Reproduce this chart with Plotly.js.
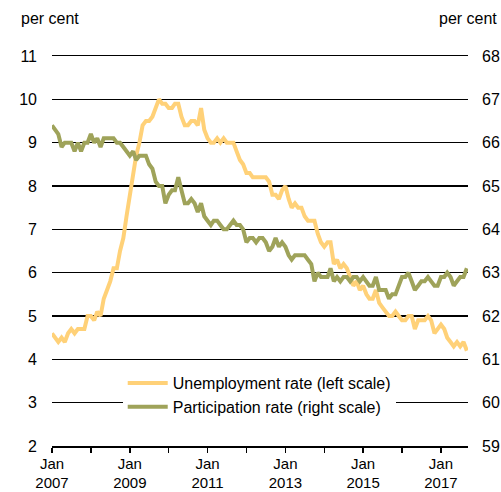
<!DOCTYPE html>
<html>
<head>
<meta charset="utf-8">
<script src="https://cdn.plot.ly/plotly-3.0.1.min.js"></script>
<style>html,body{margin:0;padding:0;background:#fff;}#chart{width:501px;height:492px;}</style>
</head>
<body>
<div id="chart"></div>
<script>
// Monthly, Jan 2007 – Sep 2017
const startYear = 2007;
const unemployment = [
  4.6, 4.5, 4.4, 4.5, 4.4, 4.6, 4.7, 4.6, 4.7, 4.7, 4.7, 5.0,
  5.0, 4.9, 5.1, 5.0, 5.4, 5.6, 5.8, 6.1, 6.1, 6.5, 6.8, 7.3,
  7.8, 8.3, 8.7, 9.0, 9.4, 9.5, 9.5, 9.6, 9.8, 10.0, 9.9, 9.9,
  9.8, 9.8, 9.9, 9.9, 9.6, 9.4, 9.4, 9.5, 9.5, 9.4, 9.8, 9.3,
  9.1, 9.0, 9.0, 9.1, 9.0, 9.1, 9.0, 9.0, 9.0, 8.8, 8.6, 8.5,
  8.3, 8.3, 8.2, 8.2, 8.2, 8.2, 8.2, 8.1, 7.8, 7.8, 7.7, 7.9,
  8.0, 7.7, 7.5, 7.6, 7.5, 7.5, 7.3, 7.2, 7.2, 7.2, 6.9, 6.7,
  6.6, 6.7, 6.7, 6.2, 6.3, 6.1, 6.2, 6.1, 5.9, 5.7, 5.8, 5.6,
  5.7, 5.5, 5.4, 5.4, 5.6, 5.3, 5.2, 5.1, 5.0, 5.0, 5.1, 5.0,
  4.9, 4.9, 5.0, 5.0, 4.7, 4.9, 4.9, 4.9, 5.0, 4.9, 4.6, 4.7,
  4.8, 4.7, 4.5, 4.4, 4.3, 4.4, 4.3, 4.4, 4.2
];
const participation = [
  66.4, 66.3, 66.2, 65.9, 66.0, 66.0, 66.0, 65.8, 66.0, 65.8, 66.0, 66.0,
  66.2, 66.0, 66.1, 65.9, 66.1, 66.1, 66.1, 66.1, 66.0, 66.0, 65.9, 65.8,
  65.7, 65.8, 65.6, 65.7, 65.7, 65.7, 65.5, 65.4, 65.1, 65.0, 65.0, 64.6,
  64.8, 64.9, 64.9, 65.2, 64.9, 64.6, 64.6, 64.7, 64.6, 64.4, 64.6, 64.3,
  64.2, 64.1, 64.2, 64.2, 64.1, 64.0, 64.0, 64.1, 64.2, 64.1, 64.1, 64.0,
  63.7, 63.8, 63.8, 63.7, 63.8, 63.8, 63.7, 63.5, 63.6, 63.8, 63.6, 63.7,
  63.6, 63.4, 63.3, 63.4, 63.4, 63.4, 63.4, 63.3, 63.2, 62.8, 63.0, 62.9,
  62.9, 62.9, 63.1, 62.8, 62.9, 62.8, 62.9, 62.9, 62.8, 62.9, 62.9, 62.8,
  62.9, 62.8, 62.7, 62.7, 62.9, 62.6, 62.6, 62.6, 62.4, 62.5, 62.5, 62.7,
  62.9, 62.9, 63.0, 62.8, 62.6, 62.7, 62.8, 62.8, 62.9, 62.8, 62.7, 62.7,
  62.9, 62.9, 63.0, 62.9, 62.7, 62.8, 62.9, 62.9, 63.1
];
const tickYears = [2007, 2008, 2009, 2010, 2011, 2012, 2013, 2014, 2015, 2016, 2017];
const labelledYears = [2007, 2009, 2011, 2013, 2015, 2017];
const leftTicks = [2, 3, 4, 5, 6, 7, 8, 9, 10, 11];
const rightTicks = [59, 60, 61, 62, 63, 64, 65, 66, 67, 68];

const dates = unemployment.map((_, i) => {
  const y = startYear + Math.floor(i / 12);
  const m = (i % 12) + 1;
  return y + '-' + String(m).padStart(2, '0') + '-01';
});

const FONT = 'Liberation Sans, Arial, sans-serif';
const FS = 16;

const traces = [
  {
    x: dates, y: participation, yaxis: 'y2', type: 'scatter', mode: 'lines',
    name: 'Participation rate (right scale)', legendrank: 2,
    line: {color: '#9fa35a', width: 4}
  },
  {
    x: dates, y: unemployment, type: 'scatter', mode: 'lines',
    name: 'Unemployment rate (left scale)', legendrank: 1,
    line: {color: '#ffd178', width: 4}
  }
];

const layout = {
  width: 501, height: 492,
  margin: {l: 52, r: 33, t: 56, b: 46},
  paper_bgcolor: '#fff', plot_bgcolor: '#fff',
  font: {family: FONT, size: FS, color: '#000'},
  showlegend: true,
  legend: {
    x: 0.17, y: 0.205, xanchor: 'left', yanchor: 'top',
    bgcolor: '#fff', borderwidth: 0,
    font: {family: FONT, size: FS, color: '#000'},
    itemwidth: 40, tracegroupgap: 0
  },
  xaxis: {
    type: 'date',
    range: ['2007-01-01', '2017-09-12'],
    tickvals: tickYears.map(y => y + '-01-01'),
    ticktext: tickYears.map(y => labelledYears.includes(y) ? 'Jan<br>' + y : ''),
    ticks: 'outside', ticklen: 5, tickwidth: 1.5, tickcolor: '#000',
    ticklabelstandoff: -2,
    showgrid: false, zeroline: false,
    showline: true, linecolor: '#000', linewidth: 1.5, mirror: true,
    tickfont: {family: FONT, size: 15, color: '#000'}
  },
  yaxis: {
    range: [2, 11], tickvals: leftTicks,
    showgrid: true, gridcolor: '#000', gridwidth: 1.5,
    zeroline: false, showline: false, ticks: '',
    ticklabelstandoff: 14,
    tickfont: {family: FONT, size: FS, color: '#000'}
  },
  yaxis2: {
    range: [59, 68], tickvals: rightTicks,
    overlaying: 'y', side: 'right',
    showgrid: false, zeroline: false, showline: false, ticks: '',
    ticklabelstandoff: 13,
    tickfont: {family: FONT, size: FS, color: '#000'}
  },
  annotations: [
    {text: 'per cent', xref: 'paper', yref: 'paper', x: 0, y: 1, xshift: -33, yshift: 38,
     xanchor: 'left', yanchor: 'middle', showarrow: false, font: {family: FONT, size: FS, color: '#000'}},
    {text: 'per cent', xref: 'paper', yref: 'paper', x: 1, y: 1, xshift: 31, yshift: 38,
     xanchor: 'right', yanchor: 'middle', showarrow: false, font: {family: FONT, size: FS, color: '#000'}}
  ]
};

Plotly.newPlot('chart', traces, layout, {displayModeBar: false, staticPlot: true});
</script>
</body>
</html>
